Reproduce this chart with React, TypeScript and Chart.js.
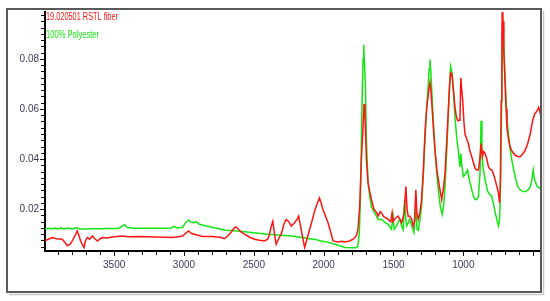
import React, { useEffect, useRef } from "react";
import { Chart, registerables } from "chart.js";

Chart.register(...registerables);

// Wavenumbers (cm-1) and absorbance for 19.020501 RSTL fiber (red)
const fiberWn = [4000, 3970, 3943, 3910, 3872, 3850, 3836, 3815, 3800, 3780, 3764, 3752, 3740, 3716, 3705, 3692, 3675, 3656, 3640, 3620, 3600, 3584, 3550, 3513, 3480, 3441, 3400, 3321, 3260, 3201, 3140, 3082, 3040, 3010, 2985, 2967, 2945, 2926, 2900, 2866, 2795, 2734, 2711, 2687, 2660, 2640, 2627, 2610, 2590, 2567, 2530, 2495, 2460, 2424, 2400, 2388, 2376, 2364, 2352, 2340, 2320, 2304, 2285, 2268, 2250, 2232, 2208, 2190, 2179, 2165, 2148, 2136, 2120, 2100, 2080, 2065, 2045, 2030, 2018, 2005, 1985, 1969, 1950, 1933, 1897, 1870, 1849, 1813, 1790, 1777, 1765, 1754, 1742, 1730, 1718, 1711, 1705, 1701, 1694, 1682, 1670, 1658, 1640, 1620, 1610, 1595, 1586, 1570, 1555, 1538, 1520, 1510, 1503, 1485, 1467, 1455, 1442, 1425, 1411, 1403, 1395, 1383, 1370, 1359, 1350, 1340, 1332, 1323, 1310, 1299, 1287, 1275, 1263, 1251, 1239, 1233, 1227, 1215, 1203, 1190, 1179, 1165, 1155, 1143, 1131, 1120, 1108, 1098, 1091, 1085, 1079, 1070, 1060, 1050, 1040, 1030, 1024, 1018, 1012, 1004, 996, 988, 976, 964, 952, 940, 925, 916, 904, 892, 882, 873, 864, 855, 844, 832, 820, 808, 796, 784, 772, 760, 749, 740, 735, 729, 724, 720, 716, 710, 701, 694, 688, 677, 665, 650, 629, 610, 593, 575, 557, 540, 521, 505, 490, 475, 461, 452, 444];
const fiberAbs = [0.0073, 0.008, 0.0087, 0.0082, 0.008, 0.0066, 0.0054, 0.006, 0.0073, 0.0095, 0.0113, 0.0095, 0.0073, 0.0047, 0.0075, 0.0087, 0.008, 0.0093, 0.0083, 0.0073, 0.0082, 0.0087, 0.0085, 0.0089, 0.0091, 0.0093, 0.009, 0.0091, 0.009, 0.0089, 0.0088, 0.0087, 0.009, 0.0093, 0.0105, 0.0113, 0.0103, 0.01, 0.0096, 0.0091, 0.0091, 0.0087, 0.0082, 0.0093, 0.011, 0.0125, 0.0129, 0.012, 0.0108, 0.01, 0.0088, 0.008, 0.0076, 0.0073, 0.008, 0.01, 0.013, 0.0152, 0.01, 0.006, 0.0085, 0.01, 0.014, 0.0159, 0.015, 0.0133, 0.0146, 0.016, 0.0172, 0.013, 0.008, 0.0047, 0.008, 0.012, 0.016, 0.0192, 0.0225, 0.0245, 0.0225, 0.0198, 0.017, 0.0146, 0.011, 0.0073, 0.0069, 0.0072, 0.0069, 0.0073, 0.008, 0.0087, 0.0095, 0.012, 0.0211, 0.0396, 0.0527, 0.062, 0.058, 0.0527, 0.0396, 0.0305, 0.027, 0.0238, 0.02, 0.0185, 0.0172, 0.019, 0.0185, 0.017, 0.0165, 0.0159, 0.015, 0.0185, 0.015, 0.0165, 0.0172, 0.016, 0.0146, 0.018, 0.029, 0.02, 0.0172, 0.0172, 0.016, 0.0133, 0.015, 0.0277, 0.018, 0.0159, 0.019, 0.0238, 0.035, 0.05, 0.06, 0.0659, 0.0705, 0.068, 0.0632, 0.053, 0.0435, 0.036, 0.0317, 0.027, 0.0238, 0.028, 0.0343, 0.046, 0.0593, 0.07, 0.0744, 0.074, 0.0724, 0.067, 0.0606, 0.057, 0.0553, 0.0555, 0.0566, 0.0724, 0.068, 0.0632, 0.055, 0.05, 0.048, 0.0462, 0.043, 0.0409, 0.038, 0.0363, 0.0356, 0.0356, 0.04, 0.0462, 0.0409, 0.043, 0.0422, 0.04, 0.0369, 0.036, 0.0356, 0.034, 0.0317, 0.029, 0.0264, 0.0225, 0.03, 0.0632, 0.09, 0.105, 0.095, 0.083, 0.0698, 0.06, 0.0527, 0.048, 0.0448, 0.043, 0.0415, 0.041, 0.0409, 0.042, 0.0435, 0.046, 0.05, 0.055, 0.058, 0.059, 0.0606, 0.059, 0.0567];

// Wavenumbers (cm-1) and absorbance for 100% Polyester (green)
const polyWn = [4000, 3960, 3945, 3925, 3905, 3880, 3860, 3830, 3800, 3770, 3745, 3700, 3650, 3600, 3550, 3470, 3440, 3425, 3405, 3350, 3250, 3150, 3090, 3070, 3050, 3010, 2985, 2967, 2950, 2930, 2915, 2890, 2850, 2800, 2750, 2700, 2600, 2500, 2400, 2300, 2232, 2180, 2113, 2060, 2017, 1970, 1921, 1880, 1849, 1800, 1770, 1756, 1745, 1737, 1725, 1718, 1713, 1708, 1701, 1694, 1682, 1670, 1658, 1640, 1610, 1585, 1562, 1540, 1514, 1503, 1495, 1480, 1465, 1454, 1440, 1431, 1420, 1412, 1406, 1395, 1383, 1370, 1354, 1340, 1332, 1323, 1310, 1299, 1285, 1275, 1263, 1251, 1245, 1239, 1233, 1227, 1215, 1203, 1190, 1179, 1165, 1151, 1140, 1131, 1120, 1108, 1098, 1091, 1085, 1079, 1070, 1060, 1048, 1036, 1024, 1018, 1012, 1000, 985, 970, 958, 940, 920, 904, 892, 880, 873, 867, 860, 844, 830, 820, 796, 780, 772, 760, 749, 742, 737, 729, 722, 716, 712, 706, 696, 688, 677, 665, 653, 640, 629, 610, 593, 575, 557, 540, 521, 508, 500, 494, 486, 470, 455, 444];
const polyAbs = [0.0122, 0.0124, 0.0121, 0.0125, 0.0121, 0.0126, 0.0121, 0.0125, 0.0121, 0.0127, 0.0121, 0.0121, 0.0122, 0.0122, 0.0123, 0.0123, 0.0133, 0.0138, 0.0127, 0.0124, 0.0124, 0.0124, 0.0125, 0.0131, 0.0125, 0.0128, 0.0148, 0.0157, 0.0148, 0.0146, 0.015, 0.014, 0.0134, 0.0128, 0.0122, 0.0116, 0.0112, 0.0106, 0.01, 0.0096, 0.0093, 0.0089, 0.0083, 0.0079, 0.0073, 0.0068, 0.006, 0.0053, 0.0047, 0.0046, 0.0046, 0.005, 0.01, 0.0238, 0.0632, 0.08, 0.0856, 0.078, 0.07, 0.0475, 0.0305, 0.025, 0.021, 0.019, 0.0159, 0.016, 0.0147, 0.014, 0.012, 0.0172, 0.012, 0.013, 0.015, 0.0159, 0.013, 0.0118, 0.0238, 0.016, 0.0133, 0.0145, 0.0159, 0.0135, 0.0107, 0.0211, 0.012, 0.0115, 0.016, 0.0211, 0.035, 0.0475, 0.06, 0.0698, 0.076, 0.0797, 0.075, 0.0685, 0.055, 0.0435, 0.034, 0.0277, 0.021, 0.0179, 0.022, 0.029, 0.042, 0.0567, 0.07, 0.077, 0.0755, 0.0738, 0.066, 0.0567, 0.049, 0.0435, 0.0369, 0.0422, 0.038, 0.033, 0.034, 0.0356, 0.032, 0.0277, 0.024, 0.0238, 0.0251, 0.035, 0.0553, 0.045, 0.037, 0.0317, 0.028, 0.0264, 0.0251, 0.021, 0.0185, 0.016, 0.0133, 0.015, 0.0211, 0.0475, 0.079, 0.0922, 0.088, 0.079, 0.0659, 0.057, 0.05, 0.044, 0.0396, 0.036, 0.033, 0.029, 0.0277, 0.0272, 0.027, 0.0275, 0.029, 0.032, 0.0356, 0.033, 0.031, 0.029, 0.0285, 0.0277];

const xTickValues = [3500, 3000, 2500, 2000, 1500, 1000];
const yTickValues = [0.02, 0.04, 0.06, 0.08];
const legendLabels = ["19.020501 RSTL fiber", "100% Polyester"];

const RED = "rgb(255,20,20)";
const GREEN = "rgb(20,230,20)";
const FONT = "'Liberation Sans Narrow', 'Liberation Sans', Arial, sans-serif";

const decoPlugin = {
  id: "deco",
  beforeDraw(chart: any) {
    const ctx = chart.ctx;
    ctx.save();
    ctx.fillStyle = "#fff";
    ctx.fillRect(0, 0, chart.width, chart.height);
    ctx.restore();
  },
  afterDraw(chart: any) {
    const ctx = chart.ctx;
    const { left, right, top, bottom } = chart.chartArea;
    const xs = chart.scales.x;
    const ys = chart.scales.y;
    ctx.save();
    // outer frame with shadow
    ctx.strokeStyle = "#c8c8c8";
    ctx.lineWidth = 1.5;
    ctx.beginPath();
    ctx.moveTo(9, 294.5);
    ctx.lineTo(543.5, 294.5);
    ctx.lineTo(543.5, 11);
    ctx.stroke();
    ctx.strokeStyle = "#5a5a5a";
    ctx.lineWidth = 2;
    ctx.strokeRect(7, 9, right - 7, 292 - 9);
    // x ticks
    ctx.strokeStyle = "#111";
    ctx.lineWidth = 1;
    for (let i = 5; i <= 39; i++) {
      const v = i * 100;
      const px = Math.round(xs.getPixelForValue(v)) + 0.5;
      if (px < left || px > right) continue;
      const len = i % 5 === 0 ? 4 : 3;
      ctx.beginPath();
      ctx.moveTo(px, bottom + 1);
      ctx.lineTo(px, bottom + 1 + len);
      ctx.stroke();
    }
    for (let i = 2; i <= 39; i++) {
      const v = i * 0.0025;
      const py = Math.round(ys.getPixelForValue(v)) + 0.5;
      if (py < top || py > bottom) continue;
      const len = i % 8 === 0 ? 4 : 3;
      ctx.beginPath();
      ctx.moveTo(left - 1, py);
      ctx.lineTo(left - 1 - len, py);
      ctx.stroke();
    }
    // legend text
    const targets = [72, 53];
    const colors = [RED, GREEN];
    const ypos = [17, 35];
    ctx.font = `11px ${FONT}`;
    ctx.textBaseline = "middle";
    ctx.textAlign = "left";
    legendLabels.forEach((t, i) => {
      const w = ctx.measureText(t).width;
      ctx.save();
      ctx.translate(left + 1, ypos[i]);
      ctx.scale(targets[i] / w, 1);
      ctx.fillStyle = colors[i];
      ctx.fillText(t, 0, 0);
      ctx.restore();
    });
    ctx.restore();
  },
};

export default function App() {
  const ref = useRef<HTMLCanvasElement | null>(null);
  useEffect(() => {
    if (!ref.current) return;
    const fiber = fiberWn.map((w, i) => ({ x: w, y: fiberAbs[i] }));
    const poly = polyWn.map((w, i) => ({ x: w, y: polyAbs[i] }));
    const chart = new Chart(ref.current, {
      type: "line",
      data: {
        datasets: [
          { label: legendLabels[0], data: fiber, borderColor: RED, borderWidth: 1.5, pointRadius: 0, tension: 0, fill: false },
          { label: legendLabels[1], data: poly, borderColor: GREEN, borderWidth: 1.5, pointRadius: 0, tension: 0, fill: false },
        ],
      },
      options: {
        responsive: false,
        animation: false,
        events: [],
        layout: { padding: { top: 10, right: 9, left: 0, bottom: 0 } },
        plugins: { legend: { display: false }, tooltip: { enabled: false } },
        scales: {
          x: {
            type: "linear",
            reverse: true,
            min: 444,
            max: 3995,
            afterFit: (s: any) => { s.height = 50; },
            afterBuildTicks: (s: any) => { s.ticks = xTickValues.map((v) => ({ value: v })); },
            grid: { display: true, drawOnChartArea: false, drawTicks: false },
            border: { display: true, color: "#000", width: 2 },
            ticks: { color: "#3a3a58", font: { family: FONT, size: 10 }, padding: 8, maxRotation: 0, autoSkip: false, callback: (v: any) => String(v) },
          },
          y: {
            type: "linear",
            min: 0.0033,
            max: 0.0987,
            afterFit: (s: any) => { s.width = 45; },
            afterBuildTicks: (s: any) => { s.ticks = yTickValues.map((v) => ({ value: v })); },
            grid: { display: true, drawOnChartArea: false, drawTicks: false },
            border: { display: true, color: "#000", width: 2 },
            ticks: { color: "#3a3a58", font: { family: FONT, size: 10 }, padding: 6, callback: (v: any) => Number(v).toFixed(2) },
          },
        },
      },
      plugins: [decoPlugin],
    });
    return () => chart.destroy();
  }, []);
  return (
    <div style={{ position: "absolute", left: 0, top: 0, width: 550, height: 301, background: "#fff" }}>
      <canvas ref={ref} width={550} height={301} style={{ width: 550, height: 301, display: "block" }} />
    </div>
  );
}
